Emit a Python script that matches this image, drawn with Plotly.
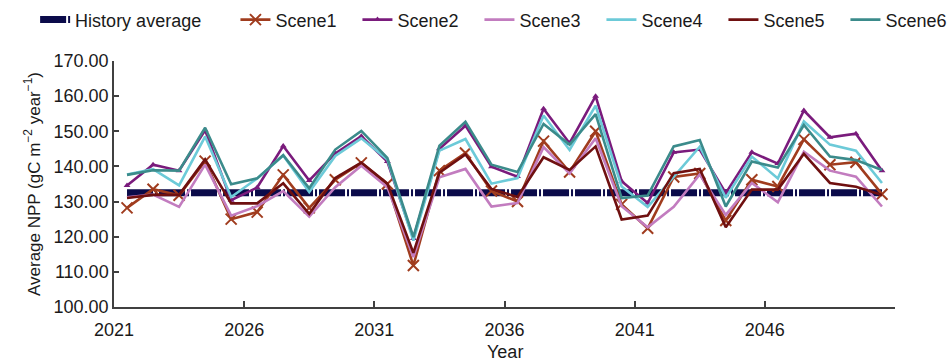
import plotly.graph_objects as go

# Simulated annual NPP under six scenes, 2021-2050
years = list(range(2021, 2051))
history_average = 132.5

scene1 = [128.2, 133.5, 131.8, 141.5, 125.0, 127.0, 137.6, 128.2, 136.2, 141.0,
          135.0, 111.8, 138.8, 143.8, 133.0, 130.0, 147.2, 138.4, 150.0, 129.2,
          122.4, 137.0, 138.0, 124.6, 136.2, 134.3, 147.7, 140.5, 141.2, 132.1]
scene2 = [134.6, 140.5, 138.8, 150.3, 130.4, 134.0, 145.8, 136.0, 143.7, 148.6,
          141.4, 119.5, 145.0, 151.6, 139.9, 137.1, 156.4, 146.6, 160.0, 135.8,
          129.6, 144.0, 144.8, 132.4, 144.0, 140.8, 155.9, 148.3, 149.3, 138.8]
scene3 = [131.2, 132.0, 128.5, 140.5, 126.0, 128.7, 133.0, 125.7, 134.1, 140.2,
          134.1, 114.2, 136.9, 139.3, 128.6, 129.6, 145.5, 138.0, 148.0, 128.7,
          122.7, 128.5, 137.7, 126.2, 135.3, 129.8, 144.2, 138.8, 137.1, 128.6]
scene4 = [137.7, 139.2, 134.6, 148.5, 131.3, 136.6, 143.1, 132.7, 143.0, 148.0,
          142.0, 118.9, 144.5, 147.8, 135.1, 136.7, 154.5, 144.7, 157.3, 134.3,
          128.5, 136.9, 145.6, 131.1, 142.8, 136.6, 152.8, 146.2, 144.5, 135.3]
scene5 = [131.0, 131.9, 131.9, 142.0, 129.5, 129.5, 135.2, 126.5, 136.7, 141.1,
          135.1, 115.4, 138.2, 143.4, 133.6, 131.3, 142.6, 139.0, 145.7, 124.9,
          126.0, 138.1, 139.3, 122.7, 133.4, 133.4, 143.6, 135.3, 134.2, 131.9]
scene6 = [137.6, 138.9, 138.8, 151.0, 134.9, 136.6, 143.2, 133.8, 144.8, 150.1,
          142.4, 119.9, 145.9, 152.7, 140.5, 138.4, 152.1, 146.2, 154.9, 131.0,
          131.7, 145.7, 147.5, 128.6, 141.4, 139.7, 151.8, 142.8, 141.8, 139.0]

tick_years = [2021, 2026, 2031, 2036, 2041, 2046]
y_ticks = [100, 110, 120, 130, 140, 150, 160, 170]

FONT = "Liberation Sans, Arial, sans-serif"
AXIS_COLOR = "#404040"

fig = go.Figure()

fig.add_trace(go.Scatter(
    x=years, y=[history_average] * len(years), mode="lines",
    name="History average",
    line=dict(color="#0b0b4a", width=7, dash="26px,2px,2px,2px"),
    legend="legend",
))

scenes = [
    ("Scene1", scene1, "#a03c1e", dict(symbol="x-thin", size=11,
                                       line=dict(width=2, color="#a03c1e"))),
    ("Scene2", scene2, "#7a1b7c", dict(symbol="triangle-up", size=6)),
    ("Scene3", scene3, "#c27cbf", None),
    ("Scene4", scene4, "#6ccad8", None),
    ("Scene5", scene5, "#6f1010", None),
    ("Scene6", scene6, "#3b8b8b", None),
]
for name, vals, color, marker in scenes:
    kw = dict(mode="lines")
    if marker is not None:
        kw = dict(mode="lines+markers", marker=dict(color=color, **marker))
    fig.add_trace(go.Scatter(
        x=years, y=vals, name=name, line=dict(color=color, width=2.6),
        legend="legend2", **kw))

fig.update_layout(
    width=948, height=361,
    margin=dict(l=114, r=53, t=61, b=54, autoexpand=False),
    paper_bgcolor="white", plot_bgcolor="white",
    font=dict(family=FONT, size=18, color="#1a1a1a"),
    showlegend=True,
    legend=dict(orientation="h", x=-0.101, xanchor="left", y=1.167, yanchor="middle",
                bgcolor="rgba(0,0,0,0)", font=dict(size=18)),
    legend2=dict(orientation="h", x=0.1555, xanchor="left", y=1.167, yanchor="middle",
                 entrywidth=77, entrywidthmode="pixels",
                 bgcolor="rgba(0,0,0,0)", font=dict(size=18)),
    annotations=[dict(text="Year", xref="paper", yref="paper", x=0.5, y=-0.183,
                      xanchor="center", yanchor="middle", showarrow=False,
                      font=dict(size=18))],
)

fig.update_xaxes(
    range=[2020.5, 2050.5],
    tickvals=[y - 0.5 for y in tick_years] + [2050.5],
    ticktext=[str(y) for y in tick_years] + [""],
    ticks="inside", ticklen=6, tickwidth=1.5, tickcolor=AXIS_COLOR,
    ticklabelstandoff=6,
    showline=True, linecolor=AXIS_COLOR, linewidth=1.5,
    showgrid=False, zeroline=False,
)
fig.update_yaxes(
    range=[100, 170],
    tickvals=y_ticks, ticktext=[f"{v:.2f}" for v in y_ticks],
    ticks="inside", ticklen=5, tickwidth=1.5, tickcolor=AXIS_COLOR,
    showline=True, linecolor=AXIS_COLOR, linewidth=1.5,
    showgrid=False, zeroline=False,
    title=dict(text="Average NPP (gC m<sup>−2</sup> year<sup>−1</sup>)",
               standoff=9, font=dict(size=17)),
)

fig.write_html("out.html")
